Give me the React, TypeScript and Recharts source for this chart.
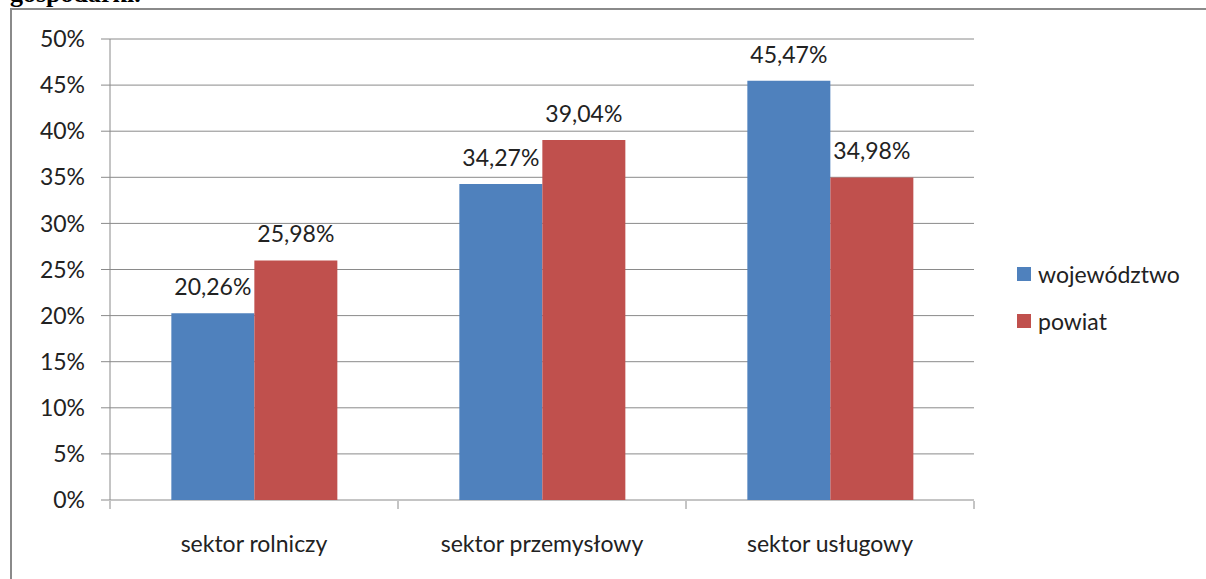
import React from "react";
import { BarChart, Bar, XAxis, YAxis, CartesianGrid, LabelList } from "recharts";

const categories = ["sektor rolniczy", "sektor przemysłowy", "sektor usługowy"];
const wojewodztwo = [20.26, 34.27, 45.47];
const powiat = [25.98, 39.04, 34.98];
const yTicks = [0, 5, 10, 15, 20, 25, 30, 35, 40, 45, 50];
const edgeTicks = [0, 1, 2, 3];

const SERIES = [
  { key: "wojewodztwo", name: "województwo", color: "#4F81BD" },
  { key: "powiat", name: "powiat", color: "#C0504D" },
];

const FONT = "Lato, 'Open Sans', sans-serif";
const GRID = "#8a8a8a";

const data = categories.map((name, i) => ({
  name,
  edge: i + 0.5,
  wojewodztwo: wojewodztwo[i],
  powiat: powiat[i],
}));

const fmt = (v: number) => `${v.toFixed(2).replace(".", ",")}%`;

export default function App() {
  return (
    <div
      style={{
        position: "absolute",
        left: 0,
        top: 0,
        width: 1206,
        height: 579,
        overflow: "hidden",
        background: "#fff",
      }}
    >
      {/* cut-off caption above the chart */}
      <div
        style={{
          position: "absolute",
          left: 10,
          top: -19,
          fontFamily: "'Liberation Serif', 'Times New Roman', serif",
          fontWeight: "bold",
          fontSize: 26,
          lineHeight: "26px",
          color: "#000",
        }}
      >
        gospodarki.
      </div>

      {/* chart frame */}
      <div
        style={{
          position: "absolute",
          left: 10,
          top: 8,
          width: 1300,
          height: 700,
          borderLeft: `2px solid ${GRID}`,
          borderTop: `2px solid ${GRID}`,
        }}
      />

      <div style={{ position: "absolute", left: 0, top: 0 }}>
        <BarChart
          width={1206}
          height={579}
          data={data}
          margin={{ top: 39, right: 232, bottom: 0, left: 0 }}
          barCategoryGap="21.3%"
          barGap={0}
        >
          <CartesianGrid vertical={false} stroke={GRID} xAxisId="cat" />
          {/* category boundaries (ticks between groups) */}
          <XAxis
            xAxisId="edge"
            type="number"
            dataKey="edge"
            domain={[0, 3]}
            ticks={edgeTicks}
            tickFormatter={() => ""}
            tickSize={8}
            height={78}
            axisLine={false}
            tickLine={{ stroke: GRID }}
          />
          <XAxis
            xAxisId="cat"
            dataKey="name"
            height={1}
            axisLine={false}
            tickLine={false}
            tickSize={0}
            tickMargin={36}
            tick={{ fill: "#222", fontSize: 23, fontFamily: FONT }}
          />
          <YAxis
            domain={[0, 50]}
            ticks={yTicks}
            width={110}
            tickSize={9}
            tickMargin={16}
            tickFormatter={(v: number) => `${v}%`}
            tick={{ fill: "#222", fontSize: 23, fontFamily: FONT }}
            axisLine={{ stroke: GRID }}
            tickLine={{ stroke: GRID }}
          />
          {SERIES.map((s) => (
            <Bar
              key={s.key}
              xAxisId="cat"
              dataKey={s.key}
              name={s.name}
              fill={s.color}
              isAnimationActive={false}
            >
              <LabelList
                dataKey={s.key}
                position="top"
                offset={18}
                formatter={(v: number) => fmt(v)}
                style={{ fill: "#222", fontSize: 23, fontFamily: FONT }}
              />
            </Bar>
          ))}
        </BarChart>
      </div>

      {/* legend */}
      <div style={{ position: "absolute", left: 1017, top: 259 }}>
        {SERIES.map((s) => (
          <div
            key={s.key}
            style={{
              display: "flex",
              alignItems: "center",
              height: 30,
              marginBottom: 17,
              fontFamily: FONT,
              fontSize: 23,
              color: "#222",
            }}
          >
            <span
              style={{
                display: "inline-block",
                width: 14,
                height: 14,
                background: s.color,
                marginRight: 7,
              }}
            />
            {s.name}
          </div>
        ))}
      </div>
    </div>
  );
}
